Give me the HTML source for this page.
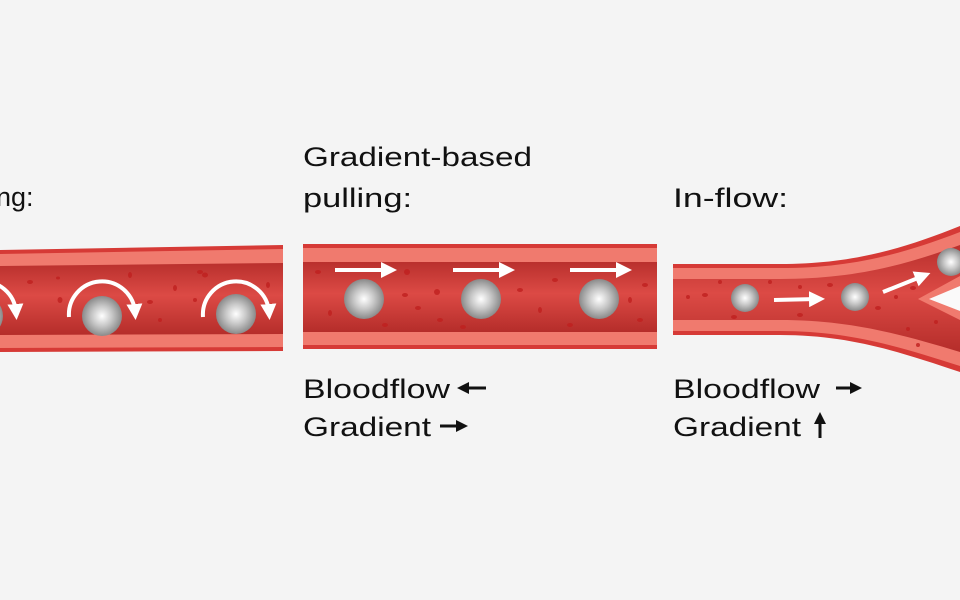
<!DOCTYPE html>
<html><head><meta charset="utf-8"><style>
html,body{margin:0;padding:0;background:#f4f4f4;}
svg{display:block}
text{font-family:"Liberation Sans",sans-serif;fill:#111;font-size:27px}
</style></head><body>
<svg width="960" height="600" viewBox="0 0 960 600" xmlns="http://www.w3.org/2000/svg">
<defs>
<linearGradient id="inner" x1="0" y1="0" x2="0" y2="1">
<stop offset="0" stop-color="#b9302d"/><stop offset="0.45" stop-color="#dc4a45"/><stop offset="1" stop-color="#b52d2a"/>
</linearGradient>
<radialGradient id="ball" cx="0.5" cy="0.5" r="0.5">
<stop offset="0" stop-color="#ffffff"/><stop offset="0.5" stop-color="#c8c8c8"/><stop offset="1" stop-color="#8a8a8a"/>
</radialGradient>
<marker id="ah" markerWidth="4" markerHeight="4" refX="2" refY="2" orient="auto" markerUnits="strokeWidth">
<path d="M0,0 L4,2 L0,4 Z" fill="#fff"/></marker>
<marker id="ahk" markerWidth="4" markerHeight="4" refX="2" refY="2" orient="auto" markerUnits="strokeWidth">
<path d="M0,0 L4,2 L0,4 Z" fill="#111"/></marker>
</defs>
<rect width="960" height="600" fill="#f4f4f4"/>

<text x="-4" y="206">ng:</text>
<text x="303" y="166" textLength="229" lengthAdjust="spacingAndGlyphs">Gradient-based</text>
<text x="303" y="207" textLength="109" lengthAdjust="spacingAndGlyphs">pulling:</text>
<text x="673" y="207" textLength="115" lengthAdjust="spacingAndGlyphs">In-flow:</text>
<text x="303" y="398" textLength="147" lengthAdjust="spacingAndGlyphs">Bloodflow</text>
<text x="303" y="436" textLength="128" lengthAdjust="spacingAndGlyphs">Gradient</text>
<text x="673" y="398" textLength="147" lengthAdjust="spacingAndGlyphs">Bloodflow</text>
<text x="673" y="436" textLength="128" lengthAdjust="spacingAndGlyphs">Gradient</text>
<line x1="486" y1="388" x2="463" y2="388" stroke="#111" stroke-width="3" marker-end="url(#ahk)"/>
<line x1="440" y1="426" x2="462" y2="426" stroke="#111" stroke-width="3" marker-end="url(#ahk)"/>
<line x1="836" y1="388" x2="856" y2="388" stroke="#111" stroke-width="3" marker-end="url(#ahk)"/>
<line x1="820" y1="438" x2="820" y2="418" stroke="#111" stroke-width="3" marker-end="url(#ahk)"/>

<path d="M0,250 L283,245 L283,351 L0,352 Z" fill="#d63a36"/>
<path d="M0,254 L283,249 L283,347 L0,348 Z" fill="#f07a6e"/>
<path d="M0,266 L283,263 L283,334 L0,335 Z" fill="url(#inner)"/>
<rect x="303" y="244" width="354" height="105" fill="#d63a36"/>
<rect x="303" y="248" width="354" height="97" fill="#f07a6e"/>
<rect x="303" y="262" width="354" height="70" fill="url(#inner)"/>
<path d="M673,264 L780,264 C850,264 900,250 960,226 L960,372 C900,352 850,335 780,335 L673,335 Z" fill="#d63a36"/>
<path d="M673,268 L780,268 C850,268 900,255 960,232 L960,366 C900,347 850,331 780,331 L673,331 Z" fill="#f07a6e"/>
<path d="M673,279 L780,279 C850,279 900,267 960,245 L960,352 C900,334 850,320 780,320 L673,320 Z" fill="url(#inner)"/>
<path d="M960,276 L918,299 L960,320 Z" fill="#f07a6e"/>
<path d="M960,286 L929,299 L960,311 Z" fill="#fafafa"/>

<g fill="#c0201f" opacity="0.8">
<ellipse cx="30" cy="282" rx="3" ry="2"/><ellipse cx="60" cy="300" rx="2.5" ry="3"/><ellipse cx="58" cy="278" rx="2" ry="1.5"/>
<ellipse cx="130" cy="275" rx="2" ry="3"/><ellipse cx="150" cy="302" rx="3" ry="2"/><ellipse cx="160" cy="320" rx="2" ry="2"/>
<ellipse cx="175" cy="288" rx="2" ry="3"/><ellipse cx="200" cy="272" rx="3" ry="2"/><ellipse cx="195" cy="300" rx="2" ry="2"/>
<ellipse cx="205" cy="275" rx="3" ry="2.5"/><ellipse cx="268" cy="285" rx="2" ry="3"/>
<ellipse cx="318" cy="272" rx="3" ry="2"/><ellipse cx="330" cy="313" rx="2" ry="3"/><ellipse cx="407" cy="272" rx="3" ry="3"/>
<ellipse cx="405" cy="295" rx="3" ry="2"/><ellipse cx="418" cy="308" rx="3" ry="2"/><ellipse cx="437" cy="292" rx="3" ry="3"/>
<ellipse cx="440" cy="320" rx="3" ry="2"/><ellipse cx="385" cy="325" rx="3" ry="2"/><ellipse cx="463" cy="327" rx="3" ry="2"/>
<ellipse cx="520" cy="290" rx="3" ry="2"/><ellipse cx="540" cy="310" rx="2" ry="3"/><ellipse cx="555" cy="280" rx="3" ry="2"/>
<ellipse cx="570" cy="325" rx="3" ry="2"/><ellipse cx="630" cy="300" rx="2" ry="3"/><ellipse cx="645" cy="285" rx="3" ry="2"/>
<ellipse cx="640" cy="320" rx="3" ry="2"/>
<ellipse cx="688" cy="297" rx="2" ry="2"/><ellipse cx="705" cy="295" rx="3" ry="2"/><ellipse cx="720" cy="282" rx="2" ry="2"/>
<ellipse cx="734" cy="317" rx="3" ry="2"/><ellipse cx="770" cy="282" rx="2" ry="2"/><ellipse cx="800" cy="287" rx="2" ry="2"/>
<ellipse cx="800" cy="315" rx="3" ry="2"/><ellipse cx="830" cy="285" rx="3" ry="2"/><ellipse cx="878" cy="308" rx="3" ry="2"/>
<ellipse cx="896" cy="297" rx="2" ry="2"/><ellipse cx="913" cy="288" rx="3" ry="2"/><ellipse cx="908" cy="329" rx="2" ry="2"/>
<ellipse cx="936" cy="322" rx="2" ry="2"/><ellipse cx="918" cy="345" rx="2" ry="2"/>
</g>

<g fill="url(#ball)">
<circle cx="-17" cy="316" r="20"/><circle cx="102" cy="316" r="20"/><circle cx="236" cy="314" r="20"/>
<circle cx="364" cy="299" r="20"/><circle cx="481" cy="299" r="20"/><circle cx="599" cy="299" r="20"/>
<circle cx="745" cy="298" r="14"/><circle cx="855" cy="297" r="14"/><circle cx="951" cy="262" r="14"/>
</g>

<g fill="none" stroke="#fff" stroke-width="4">
<path d="M-50,317 A33,33 0 0 1 16,312" marker-end="url(#ah)"/>
<path d="M69,317 A33,33 0 0 1 135,312" marker-end="url(#ah)"/>
<path d="M203,317 A33,33 0 0 1 269,312" marker-end="url(#ah)"/>
</g>
<g stroke="#fff" stroke-width="4">
<line x1="335" y1="270" x2="389" y2="270" marker-end="url(#ah)"/>
<line x1="453" y1="270" x2="507" y2="270" marker-end="url(#ah)"/>
<line x1="570" y1="270" x2="624" y2="270" marker-end="url(#ah)"/>
<line x1="774" y1="300" x2="817" y2="299" marker-end="url(#ah)"/>
<line x1="883" y1="292" x2="923" y2="276" marker-end="url(#ah)"/>
</g>
</svg>
</body></html>
